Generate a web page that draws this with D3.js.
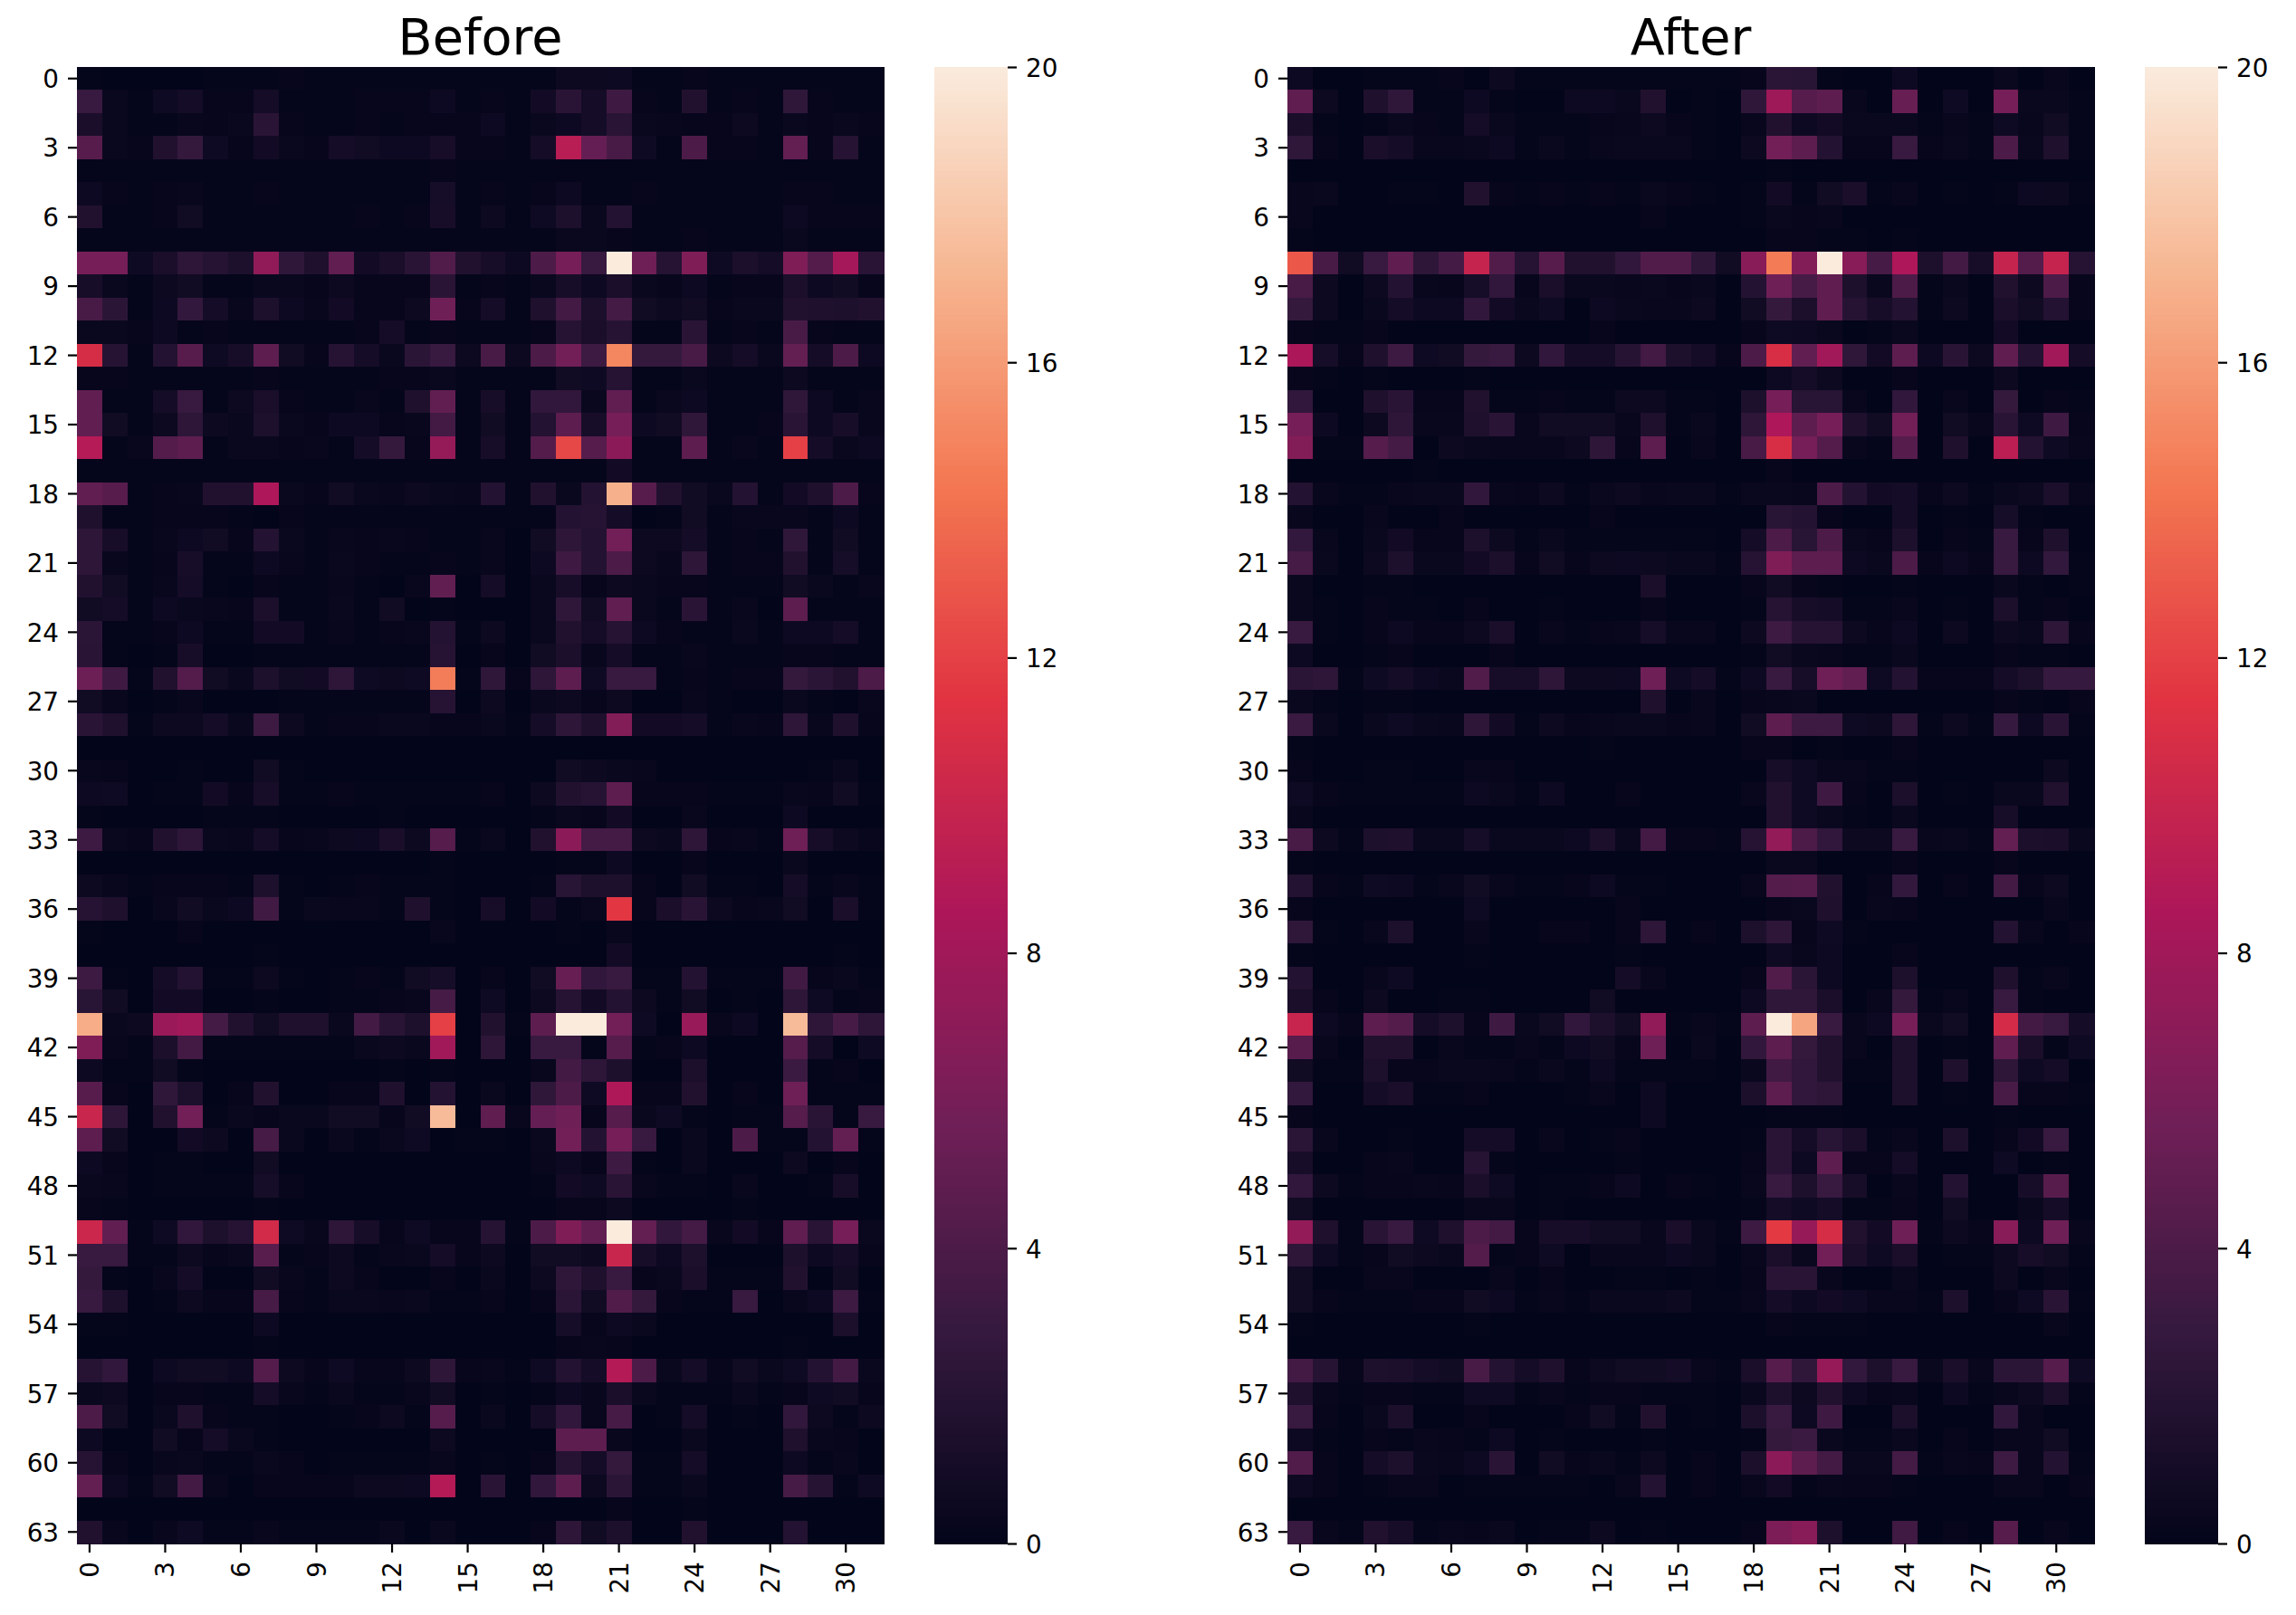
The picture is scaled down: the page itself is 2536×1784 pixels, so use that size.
<!DOCTYPE html>
<html>
<head>
<meta charset="utf-8">
<title>Before / After</title>
<script src="https://cdnjs.cloudflare.com/ajax/libs/d3/7.8.5/d3.min.js"></script>
<style>
  html, body { margin: 0; padding: 0; background: #fff; }
  svg { display: block; }
  text { font-family: "DejaVu Sans", sans-serif; fill: #000; }
</style>
</head>
<body>
<svg id="chart" width="2536" height="1784"></svg>
<script>
const rowTicks = [0,3,6,9,12,15,18,21,24,27,30,33,36,39,42,45,48,51,54,57,60,63]
const colTicks = [0,3,6,9,12,15,18,21,24,27,30]
const barTicks = [0,4,8,12,16,20]
const titles = ['Before', 'After']
// seaborn rocket, sampled
const rocketStops = ['#03051a','#35193e','#701f57','#ad1759','#e13342','#f37651','#f6b48f','#faebdd']

const beforeRows = [
[.1,0,0,0,0,.1,.1,.1,.2,.1,.1,.1,.1,.1,.1,.1,.1,.1,.1,.5,.5,.6,.1,.1,.2,.1,.1,.1,.1,.1,.1,.1],
[3,.4,.1,.7,1,.2,.2,1,.1,.1,.1,.2,.2,.2,.6,.1,.2,.1,.9,2.2,1,3.3,.2,.1,1.7,.1,.2,.1,2.5,.2,.1,.1],
[1.3,.4,.1,.1,.3,.2,.4,2.2,.2,.1,.1,.2,.1,.2,.2,.2,.6,.1,.4,.6,1,2.2,.4,.3,.2,.2,.5,.1,.4,.2,.4,.2],
[4.5,.4,.2,1.7,2.8,.7,.2,.9,.4,.2,1,.8,.6,.6,1.2,.2,.2,.1,1,9.2,5.2,3.8,.7,.1,4,.2,.2,.1,5.1,.2,2,.1],
[.1,.1,.1,.1,.1,.1,.1,.1,.1,.1,.1,.1,.1,.1,.2,.1,.1,.1,.1,.1,.1,.1,.1,.1,.1,.1,.1,.1,.1,.1,.1,.1],
[.6,.2,.1,.2,.3,.1,.1,.2,.1,.1,.1,.1,.1,.1,1.1,.1,.2,.1,.2,.6,.1,.1,.2,.1,.1,.1,.1,.1,.2,.2,.1,.1],
[1.7,.1,.1,.2,.8,.1,.1,.1,.1,.1,.1,.2,.1,.2,1.2,.1,.5,.1,.7,1.5,.4,1.9,.1,.1,.1,.1,.1,.1,.6,.2,.2,.2],
[.1,.1,.1,.1,.1,.1,.1,.1,.1,.1,.1,.1,.1,.1,.1,.1,.1,.1,.1,.4,.4,.2,.1,.1,.2,.1,.1,.1,.4,.1,.1,.1],
[6,6,.7,1.3,2.4,2,1.5,7.2,2.5,1.6,5,.9,1.3,2.2,4.2,1.7,1.2,.6,4,6,3,20,5.6,2,6.4,.7,1.4,1,6.4,4.3,8.2,2.2],
[1.2,.4,.1,.5,.8,.1,.1,.4,.4,.2,.5,.2,.2,.2,2.2,.1,.2,.1,.4,1.2,.6,1.3,.4,.2,.6,.1,.2,.2,1.4,.6,.8,.2],
[3.8,2.3,.1,.6,2.7,1,.3,1.5,.6,.3,.9,.2,.2,.5,5.6,.2,1,.1,1.6,3.5,1.4,3.6,.8,.5,.8,.2,.4,.4,1.7,1.6,1.5,1.7],
[.4,.4,.2,.6,.1,.2,.1,.1,.1,.1,.1,.2,1,.1,.2,.1,.1,.1,.2,2,1.3,2,.1,.1,2.2,.1,.2,.1,3.8,.2,.1,.1],
[10.8,2,.1,1.8,4.5,.7,1.2,4.8,.8,.2,2,1,.4,2.3,3,.5,3.8,.5,4,5.8,3.2,15,2.8,2.8,3.8,.5,1,.4,5.1,1,4,.6],
[.2,.2,.1,.1,.1,.1,.1,.2,.1,.1,.1,.1,.2,.2,.4,.1,.1,.1,.1,.8,.7,2,.1,.1,.4,.1,.1,.1,.5,.1,.1,.1],
[5,.1,.1,1,3,.1,.5,1.3,.2,.1,.1,.3,.1,1.6,5,.1,1.2,.1,2.6,2.6,.4,5,.1,.4,.6,.1,.1,.1,2.5,.6,.1,.3],
[5,.8,.1,.5,2.4,.5,.4,1.5,.4,.2,.6,.6,.2,.3,3.5,.1,.8,.1,1.8,4.8,1.2,6,.6,.8,2.5,.1,.1,.2,2.2,.6,1.2,.3],
[9,.1,.3,4.3,4.8,.1,.4,.4,.2,.3,.1,1,2.8,.2,7.4,.1,1.2,.1,4.3,12.3,4.4,7,.1,.1,4.8,.1,.3,.1,12,1,.4,.6],
[.1,.1,.1,.1,.1,.1,.1,.1,.1,.1,.1,.1,.1,.1,.1,.1,.1,.1,.1,.1,.1,.9,.1,.1,.1,.1,.1,.1,.1,.1,.1,.1],
[5,4.5,.1,.2,.3,1.7,1.7,8.6,.4,.2,.8,.4,.3,.5,.4,.3,1.8,.1,1.7,.4,1.8,17,4.5,1.7,.8,.4,1.8,.1,.9,1.6,4,.2],
[1.6,.1,.1,.2,.2,.2,.1,0,.2,.1,.1,.1,.1,.1,.1,.1,.1,.1,.1,1.9,2,1,0,.1,.8,.1,.3,.3,.3,.1,.6,.1],
[2.4,1.2,.1,.3,.6,.8,.2,1.9,.4,.1,.3,.2,.3,.2,.1,.1,.3,0,.8,2.4,1.8,5.8,.5,.5,1,.1,.2,.1,2.5,.1,.8,.1],
[2.4,.3,.1,.2,1.2,.1,.1,.6,.3,.1,.4,.2,.1,.1,.2,.1,.3,0,.6,3.3,1.8,4,.5,.3,2.4,.1,.2,.2,1.7,.1,1.1,.1],
[1.7,.8,.1,.3,1,.1,0,.2,.1,.1,.3,.1,0,.3,5,0,1,0,.4,1.2,.2,.5,.4,.2,.2,.1,.1,.1,.8,.4,.1,.3],
[.8,1,.1,.6,.4,.3,.2,1.4,.1,.1,.4,.1,.8,0,.1,0,0,0,.4,2.5,.8,5,.4,.1,2.2,.1,.3,0,4.8,.1,.1,.1],
[2.3,.1,.1,.2,.6,.1,.1,.9,.9,.1,.3,.1,.2,.3,1.9,.1,.5,0,.4,1.7,1,2,.6,.2,.1,.1,.4,.1,.6,.6,1,.1],
[2.2,.1,0,.1,1.2,0,0,.1,.1,.1,.1,.1,.1,.1,2,0,.2,0,.8,1.4,.3,1,.1,.1,.3,.1,.1,.1,.2,.2,.1,.1],
[5.5,3.3,.1,1.7,4.3,.8,.4,1.5,.8,.9,2.4,.7,.5,.7,14.6,.1,2.5,.2,2.4,4.8,.7,3,3,.1,.2,.1,.2,.2,2.8,2.3,1.7,4],
[.8,.3,0,.1,.3,0,0,0,.1,.1,.1,.1,.1,.1,2,0,.5,0,.4,.5,.2,.5,0,0,.3,.1,0,0,.4,.1,0,.3],
[2.2,1.6,.1,.5,.5,1,.4,3.2,.5,.1,.2,.2,.4,.4,.2,.2,.4,.1,1,2.4,1.6,6.6,.9,.9,1,.1,.3,.2,2.4,.3,1.6,.2],
[0,0,0,0,0,0,0,0,0,0,0,0,0,0,0,0,0,0,0,0,0,0,0,0,0,0,0,0,0,0,0,0],
[.3,.2,0,0,.1,0,0,.8,.1,0,0,0,0,0,0,0,0,0,0,.8,.5,.4,.3,0,0,0,0,0,0,.1,.4,0],
[.6,.7,0,.1,.1,.9,.2,1.2,.1,.1,.2,.1,.1,.1,.1,.1,.2,0,.5,1.7,2,4.8,.2,.2,.2,.1,.1,.1,.3,.2,.8,.1],
[.1,0,0,0,0,.1,.1,.1,0,0,0,0,.1,0,0,0,0,0,.1,.4,.2,.9,0,0,.3,0,0,0,.6,0,0,0],
[3.2,.4,.2,1.7,2.4,.4,.3,1,.2,.3,.5,.6,1.3,.5,4.4,.1,.4,0,1.7,7,3.6,3.6,.5,.4,2.4,.2,.3,.1,5.6,1.2,.5,.3],
[0,0,0,0,0,0,0,0,0,0,0,0,0,0,.1,0,0,0,0,.1,.1,.6,0,0,.2,0,0,0,.4,0,0,0],
[.5,.3,.1,.2,.2,.2,.1,1.5,.1,0,.1,.2,.1,.1,.1,0,0,0,.1,2.1,1.5,1.5,.2,0,.8,.1,.1,0,1,.1,.3,.1],
[2,1.6,0,.3,.8,.4,.6,3.4,.1,.4,.3,.3,.1,1.6,.1,0,1.2,0,.9,.1,.4,11.6,.2,1.3,2.2,.5,.2,.3,.8,0,1.3,.1],
[.1,0,0,0,.2,0,0,0,0,0,0,0,0,0,.3,0,0,0,0,.1,0,.3,0,0,0,0,0,0,0,0,0,0],
[0,0,0,0,0,0,0,.1,0,0,0,0,0,0,0,0,0,0,0,0,0,.9,0,0,0,0,0,0,0,0,.1,0],
[3.2,.1,0,1,1.8,.1,.1,.5,.1,0,.1,.2,.1,.8,1.1,0,.2,0,.8,5.3,2.6,3,.1,.1,1.9,.1,.1,.1,3.4,.2,.4,.1],
[2.1,.8,0,.9,.9,0,0,.1,0,0,.1,.1,.2,.3,3.7,0,.7,0,.5,2,.9,1.9,.5,.1,.8,0,.1,0,2.4,.7,.1,.2],
[16.8,.4,.5,7.7,8,3.6,1.7,.8,1.6,1.6,.4,3.5,2.2,1.5,12,0,1.7,.1,4.8,20,20,5.8,.7,0,7.6,.3,.6,0,17.5,2.4,3.7,2.4],
[6.4,.3,.1,1.4,3.5,.1,.1,.1,.1,.1,.1,.4,.5,.4,8,0,2.4,0,3,3,.1,4.4,.1,.2,.6,0,0,0,4.4,1,0,.7],
[.6,.1,.1,.8,.1,0,0,0,0,0,0,0,.1,0,.1,0,0,0,.3,3.5,2.4,1.5,0,0,1.4,0,0,0,3.1,.1,.2,0],
[4.5,.2,0,2.5,1.5,0,.2,1.7,0,0,.2,.2,1.6,0,1.8,0,.4,0,2.5,4,.7,8.7,.2,.2,1.7,0,.2,0,5.6,.1,.1,.1],
[10.1,2.4,0,1.7,5.8,.1,.4,.2,.4,.4,.8,.8,.2,.8,17.5,0,4.9,.3,5.2,5.6,.2,4.4,.4,.7,.1,0,.1,.1,4.4,2.2,.1,3],
[4.8,.8,0,0,.9,.5,0,3.7,.4,0,.4,.1,.4,.7,0,.1,.1,0,.4,5.8,1.9,6,3,0,.4,0,4,.1,.1,1.9,5.1,.1],
[.6,.2,0,.1,.1,0,0,.8,0,0,0,0,0,0,0,0,0,0,.3,.6,.2,3.2,.1,0,.4,0,0,0,.5,0,.2,0],
[.4,.3,0,.1,.1,.1,.1,1.1,.2,0,0,0,0,0,0,0,0,0,.1,.9,.7,2.2,.3,.1,.1,0,.3,0,0,.1,1.2,0],
[.2,.1,0,0,0,0,0,.1,0,0,0,0,0,0,0,0,0,0,0,.2,.2,.5,0,0,0,0,.1,0,0,0,0,0],
[10.2,5,.1,.7,2.6,1.5,2,10.6,.7,.3,2.4,1.2,.2,.7,.2,.2,2,.1,4,6.4,5,20,5.1,2.6,3.6,.3,.9,.2,4.9,2.2,6,.4],
[3,3,.1,.1,.5,.2,.4,4.6,.1,.2,.5,.1,.3,.4,1,.2,.5,0,.8,.8,.5,10.1,1.2,.6,1.5,0,0,0,1.5,.6,1,.2],
[2.8,.1,0,.3,1,0,0,.8,.3,.1,.5,.2,0,0,.2,0,.4,0,.5,2.5,1.6,3,.2,.4,1.3,.1,.1,.1,1.7,0,.8,0],
[3,1.5,0,.1,.5,.2,.2,3.7,.2,.1,.4,.4,.3,.4,.1,.1,.2,0,.2,2.3,.8,4.2,2.8,.2,.1,.1,3,0,.3,.6,3.2,.1],
[.1,.1,0,0,0,0,0,.6,0,0,0,0,0,0,0,0,0,0,0,1.1,.2,.6,.4,0,0,0,0,0,0,0,1.4,0],
[0,0,0,0,0,0,0,.1,0,0,0,0,0,0,0,0,0,0,0,.2,.3,.2,0,0,0,0,0,0,.1,0,0,0],
[2,2.6,0,.6,.8,.8,.6,4.3,.5,.2,.7,.2,.2,.5,2.4,.2,.3,.1,.7,1.9,1,8.9,4,.4,1,.2,.8,.4,.7,1.8,3.5,.4],
[.4,.5,0,.2,.2,.1,.1,1,.3,.1,.4,.1,.1,.3,.8,0,.1,0,.1,.6,.3,1.3,.4,.1,.1,.1,.4,.1,.2,.7,.8,.2],
[4,.8,0,.4,1.6,.2,.1,.1,0,0,.1,.2,.5,.1,4.4,0,.4,0,1,2.6,.3,3.7,0,.1,1,0,.1,0,2.6,.5,.1,.5],
[.6,0,0,.8,.2,1,.4,.1,0,0,0,0,0,0,.5,0,0,0,0,4.8,4.8,.3,0,0,.4,0,0,0,1.6,.3,.2,0],
[2,.2,0,.3,.4,.1,.1,.4,.2,0,.1,.1,.1,.1,.3,0,.1,0,.2,2,1,2.8,.1,.1,1,0,0,0,.6,.1,.3,0],
[5.1,.6,.1,.8,3.5,.3,0,.2,.2,.2,.2,.5,.5,.6,8.9,0,2.2,0,2.6,4.8,.5,2.3,.1,.1,.4,0,0,0,3.7,2,.1,.7],
[0,0,0,0,0,0,0,0,0,0,0,0,0,0,0,0,0,0,0,0,0,.2,0,0,.1,0,0,0,0,0,0,0],
[1.7,.3,0,.3,.7,.1,.1,.3,.1,.1,.1,.1,.4,0,.4,0,0,0,.2,2.4,.8,1.5,0,0,1.7,0,0,0,1.8,0,0,0]
]

const afterRows = [
[.6,0,0,.1,.1,.1,.2,0,.5,.1,.1,.1,.1,.1,.1,.1,.1,.1,.2,2.3,2.1,.1,0,0,.6,0,0,0,.4,0,.3,0],
[4.9,.5,0,1.6,2.5,.1,.1,.6,.1,0,0,.6,.6,.4,1.7,0,.1,0,2.5,7.8,4.4,4.8,.3,0,5.3,0,.7,0,6,.4,.4,.1],
[1.3,.1,0,.1,.4,.2,.1,1,.4,.1,.1,.1,.2,.3,.5,.2,.1,0,.3,1.7,.6,.9,.4,.4,.4,.1,.3,.1,.7,.3,.8,.1],
[2.5,.2,0,1.3,1,.3,.3,.4,.6,.1,.4,.1,.3,.4,.4,.4,.1,0,.5,5.8,4.8,1.9,.2,.2,3,.2,.4,.1,4,.4,1.6,.1],
[0,0,0,0,0,0,0,0,0,0,0,0,0,0,0,0,0,0,0,.1,0,0,0,0,0,0,0,0,0,0,0,0],
[.3,.4,0,0,.1,.1,0,1.7,.2,.1,.2,.1,.2,.1,.4,.2,.1,0,.1,.9,.1,.8,1.3,.1,.3,0,.1,0,.1,.6,.5,.1],
[.3,0,0,0,0,0,0,0,0,0,0,0,0,0,.2,0,0,0,.1,.4,.2,.3,0,0,0,0,0,0,0,0,0,0],
[.1,0,0,0,0,0,0,0,0,0,0,0,0,0,0,0,0,0,0,.2,.2,.1,.1,0,.1,0,0,0,0,0,0,0],
[13,3.8,.8,3,4.9,2.4,3.6,9.9,4.2,2,4.5,1.7,1.7,2.6,4.2,4.2,2.5,.8,6.8,14.5,6.6,20,6.8,3.7,8.6,1.5,3.5,1.2,9.9,4.3,9.9,2],
[3.8,.5,0,.5,1.9,.3,.2,1.1,2.6,.2,1.3,.4,.4,.3,.4,.2,.4,0,1.9,5.6,3.7,4.9,1.5,.4,4,.1,.4,0,1.7,.5,4,.2],
[2.8,.5,0,.4,1,.6,.6,2.6,.9,.4,.7,0,.6,.4,.3,.3,.5,0,.8,2.8,1.4,4.9,2,1.2,1.8,.1,.5,0,1.3,.8,1.9,.2],
[.2,.1,.1,.2,0,0,0,0,0,0,0,0,.2,0,0,0,0,0,.2,.7,.6,.4,0,.1,.4,0,0,0,.9,0,0,0],
[8.5,1.1,.2,1.6,3.2,.7,.8,2.8,3,.5,2.6,1,1,2,3.5,1.5,1,.2,4,10.9,5,8,2.5,.9,4.8,.6,2.2,.5,4.9,1.8,8,1],
[.2,.1,0,.1,0,0,0,.1,0,0,0,0,0,0,0,0,0,0,0,.6,1,.5,0,0,.2,0,0,0,.5,0,0,0],
[2.6,0,0,1.6,2.2,.2,.2,1.7,.1,.1,.2,.1,.1,.5,.5,.1,.1,0,1.5,6,2.1,2.1,.3,0,2.6,0,.3,0,2.8,0,.2,.1],
[6,.6,0,.5,2.4,.3,.3,1.6,2.2,.3,.8,.8,.8,.3,1.6,.1,.4,0,2.4,8.6,4.8,6,1.6,.8,5.8,0,.8,.3,2.2,.7,3.3,.2],
[6.6,.1,.1,4.4,3.6,0,.5,.4,.3,.3,.3,.5,2.4,.2,4.8,0,.3,0,3.8,10.9,6,4.3,.3,.1,4.4,0,1.6,0,9.3,1.8,.7,.3],
[0,0,0,0,0,.1,0,0,0,0,0,0,0,0,0,0,0,0,0,.2,0,0,0,0,0,0,0,0,0,0,0,0],
[1.8,.3,.1,.1,.3,.4,.4,2.6,.3,.2,.5,.1,.4,.5,.3,.4,.4,.1,.4,.4,.3,4,1.8,.9,1,.2,.5,.1,.4,.5,1.4,.3],
[.3,0,0,.3,0,0,.2,0,0,0,0,0,.2,0,0,0,0,0,0,2.1,1.8,.2,0,0,1,0,.1,0,1.1,.1,0,0],
[2.7,.3,0,.4,.9,.2,.2,1.5,.5,.1,.4,.1,.1,.1,.1,.1,.1,0,1,4,2.1,4,.4,.2,1.5,0,.2,.1,3,.2,1.6,0],
[3.7,.4,0,.5,1.5,.4,.4,.9,1.4,.2,.8,.2,.5,.6,.5,.4,.4,.1,2,6.4,4.8,4.8,.6,.4,4,.2,.6,.2,3,.6,2.7,.1],
[.4,0,0,.1,.1,0,0,0,0,0,0,0,0,0,1.3,0,0,0,.2,.8,.2,.1,0,0,.1,0,0,0,.4,.1,0,.1],
[.4,.1,0,.2,.1,.1,0,.2,0,0,.1,0,0,0,.2,0,0,0,.1,2,1.2,1,.1,.1,.3,0,.1,0,1.4,.1,.2,0],
[3,.1,0,.2,.6,.2,.2,.5,1.3,0,.3,.1,.2,.3,1.1,.3,.3,0,.5,3.2,2,2,.5,.2,.6,0,.5,0,.5,.4,2.4,.2],
[.6,0,0,.1,.2,0,0,0,.2,0,0,0,0,0,0,0,0,0,.1,.8,.4,.3,.1,.1,.4,0,0,0,.2,.1,.1,0],
[2.3,2.4,.1,.7,1,.6,.4,4.2,1.2,1.2,2.4,.5,.5,.6,5.6,.7,1,.1,.6,3,1.2,5.6,5,.7,1.8,.2,.2,.2,1,1.5,2.9,2.9],
[.4,.1,0,.1,.1,0,0,0,0,0,0,0,0,0,1.6,0,.3,0,.2,.3,.4,0,0,0,0,0,0,0,.2,.1,0,.2],
[3.1,.4,0,.4,.7,.4,.3,2.4,.9,.1,.5,.2,.3,.4,.4,.2,.3,0,.8,4.8,3.2,3.2,.7,.5,2.4,.1,.5,.1,2.9,.6,2.2,.1],
[.1,0,0,0,0,0,0,0,0,0,0,0,.1,0,0,0,0,0,.2,.2,0,.1,0,0,.2,0,0,0,0,0,0,0],
[.2,0,0,.1,.1,0,0,.3,.2,0,0,0,0,0,0,0,0,0,0,1.2,.7,.3,.3,.1,.1,0,0,0,0,0,.5,0],
[.7,.2,.1,.1,.1,.1,.1,.6,.4,.1,.6,0,0,.2,0,0,0,0,.3,1.7,.7,3.3,.2,0,1.4,0,.1,0,.4,.4,1.7,0],
[.3,0,0,0,0,0,0,0,0,0,0,0,0,0,0,0,0,0,0,1.7,.7,.4,.1,0,.4,0,0,0,1.2,0,0,0],
[3.8,.5,.1,1.5,1.6,.4,.4,1.1,.4,.4,.4,.6,1.4,.4,3.5,.2,.2,.1,2,7.3,4,2.6,.5,.5,3,.3,.4,.1,5.1,1.4,1.3,.4],
[.1,0,0,0,0,0,0,0,0,0,0,0,0,0,0,0,0,0,0,.4,.4,0,0,0,.2,0,0,0,.2,0,0,0],
[1.8,.2,.1,.7,.6,.1,.3,.8,.3,.1,.1,.2,.6,.1,.1,0,0,0,.3,4.3,4.4,1.7,0,.2,2.7,0,.2,0,3.5,.2,.5,0],
[.2,0,0,0,0,0,0,.7,0,0,0,0,0,.2,0,0,0,0,0,.2,.4,1.6,0,.3,.2,0,0,0,0,0,.3,0],
[2.5,.1,0,.3,1.5,0,0,.3,0,0,.2,.2,0,.2,2.4,0,.2,0,1.5,2.4,.2,.7,.1,0,0,0,0,0,1.8,.3,0,.2],
[.1,0,0,0,0,0,0,.1,0,0,0,0,0,.1,0,0,0,0,0,.7,.3,.6,0,0,.2,0,0,0,0,0,0,0],
[1.8,0,0,.3,.7,0,0,0,0,0,0,0,0,1,.3,0,0,0,.2,4.2,2.3,.6,0,0,1.5,0,0,0,1.6,.1,.3,0],
[1.3,.2,0,.5,0,0,.1,.1,0,0,0,0,.8,0,0,0,0,0,.6,2.5,2.5,1.3,0,.3,2.8,.1,.3,0,3,.1,0,0],
[10,.6,.2,4.8,4.3,1,1.5,.2,3.3,.4,.8,2.6,1.5,.8,7.2,.1,.3,.1,4.8,20,16.5,3,.3,.6,6,.4,.8,0,10.7,3.5,3,1],
[4.5,.3,0,1.7,1.7,0,.3,.1,.1,.3,.1,.6,.8,.2,5.6,0,.4,0,2.6,4.8,2.8,1.7,.3,0,1.5,0,.1,0,4.9,1.3,.1,.7],
[.8,.1,.1,1.5,.2,.2,.4,.4,.3,.1,.4,.1,.6,.1,.1,.1,.1,0,.4,3.4,2.6,1.7,.1,.1,1.5,0,1.6,0,2.4,.7,1,0],
[2.7,0,0,1,1.3,.1,.1,.2,0,0,0,.1,.3,0,.6,0,0,0,1.4,4.8,2.6,2.4,0,0,1.5,0,.1,0,3.8,.2,.2,.1],
[.2,0,0,0,0,0,0,0,0,0,0,0,0,0,.6,0,0,0,0,.1,.1,.1,0,0,0,0,0,0,.1,0,0,0],
[2.3,.3,0,0,.1,0,0,1,1,0,.3,0,.1,.2,0,0,0,0,.1,2.2,1,2.1,1.3,.1,.3,0,1.5,0,.2,.9,3,0],
[1.2,0,0,.2,.3,0,0,2,.1,0,0,0,0,.1,0,0,0,0,.2,2.2,.6,4.8,.2,.2,1,0,0,0,.7,0,.1,0],
[2.6,.5,.1,.2,.2,.3,.2,1.3,.7,0,.1,.1,.2,.6,0,.2,.1,0,.3,3,1.5,3,1.2,0,.3,0,1.8,0,0,1.2,4.5,0],
[.8,0,0,0,0,0,0,.3,.3,0,.1,0,0,0,0,0,0,0,.1,1,.7,1,.1,.1,.2,0,.8,0,0,.4,1,0],
[7.3,1.6,.1,2.2,3,.7,1.6,4,3.5,.2,1.2,1.2,.8,.8,.3,1.3,.4,.1,3.2,11.7,7.5,10.8,1.7,.9,5.6,.1,.5,.2,6.8,.6,5.6,.3],
[2.4,.7,.1,.2,.8,.5,.4,4.3,.1,.2,.7,0,.3,.3,.3,.6,.4,0,.3,1.3,.4,5.8,1.3,.7,1.3,0,.1,.1,.5,1.2,.8,.1],
[.8,0,0,.3,.3,0,0,0,.3,0,.2,0,0,.1,.1,0,.1,0,.2,2.2,2.2,.3,0,0,.4,0,0,0,.5,0,.3,0],
[.8,.2,.1,.1,.1,.2,.2,.8,.6,.1,.3,.1,.4,.4,.4,.5,.1,.1,.3,1,.6,.9,.7,.3,.3,.1,1.5,0,.2,.7,2.2,.1],
[.1,0,0,0,0,0,0,.1,0,0,0,0,0,0,0,0,0,0,0,.2,.1,.1,.1,0,0,0,0,0,0,0,.3,0],
[0,0,0,0,0,0,0,0,0,0,0,0,0,0,0,0,0,0,0,0,0,0,0,0,0,0,0,0,0,0,0,0],
[3.5,2,.2,1.5,1.4,1,.8,3.8,1.8,1,1.6,.2,.5,.8,.8,1,.3,.1,1.3,4.4,2.5,7.5,2.7,1.5,3,.4,1.3,.3,2.3,2.3,4.4,.7],
[1.6,.3,.1,.2,.2,.1,.1,.7,.7,.1,.3,.1,.2,.2,.1,.1,.1,0,.4,1.5,.5,1.7,.6,.2,.3,0,.6,.1,.3,.5,1.4,.1],
[3,.2,0,.4,1.4,0,0,.2,0,0,0,.2,.8,.1,1.7,0,.1,0,1.4,3,.6,3.3,0,0,1.4,0,0,0,2.6,.3,0,0],
[.6,.1,0,.2,.1,.3,.2,.1,.6,0,.1,0,0,0,.1,0,0,0,.1,2.8,3.1,.4,.1,.1,.4,0,.2,0,.3,.3,.8,0],
[4.2,.2,0,1,1.5,.4,.3,.6,2.2,0,.8,.2,.4,.1,.5,0,.2,0,1.4,7,4.8,3.5,.4,.4,3.6,.1,.3,.2,3.2,.3,1.8,.1],
[.6,.2,0,.1,.3,.3,0,.1,.1,.1,.1,.1,0,.3,1.9,0,.2,0,.3,.9,.1,.3,.2,.2,.1,0,0,0,.3,.3,0,.2],
[0,0,0,0,0,0,0,0,0,0,0,0,0,0,0,0,0,0,0,0,0,0,0,0,0,0,0,0,0,0,0,0],
[3,.3,.1,1.7,1.2,.1,.3,.2,.4,0,.1,.1,.5,0,.1,0,0,0,.2,6.3,6.8,1.5,0,0,3.4,0,.2,0,4.5,0,.3,0]
]

const panelW = 891, panelH = 1631, panelTop = 74, panelLeft = [85, 1422]
const barLeft = 947, barW = 81
const fontPx = 27.8, tickLen = 10, tickW = 2.2

const svg = d3.select('#chart')
const color = d3.scaleLinear()
  .domain(rocketStops.map((c, i) => i * 20 / (rocketStops.length - 1)))
  .range(rocketStops)
  .clamp(true)

function styleAxis(g) {
  g.select('.domain').remove()
  g.selectAll('line').attr('stroke', '#000').attr('stroke-width', tickW)
  g.selectAll('text').attr('font-size', fontPx).attr('fill', '#000').attr('dy', '.37em')
}

function drawPanel(rows, title, left) {
  const x = d3.scaleBand().domain(d3.range(rows[0].length)).range([0, panelW])
  const y = d3.scaleBand().domain(d3.range(rows.length)).range([0, panelH])
  const g = svg.append('g').attr('transform', `translate(${left},${panelTop})`)

  rows.forEach((row, r) => {
    g.append('g').selectAll('rect')
      .data(row)
      .join('rect')
      .attr('x', (d, c) => x(c))
      .attr('y', y(r))
      .attr('width', x.bandwidth() + 0.5)
      .attr('height', y.bandwidth() + 0.5)
      .attr('shape-rendering', 'crispEdges')
      .attr('fill', d => color(d))
  })

  g.append('g')
    .call(d3.axisLeft(y).tickValues(rowTicks).tickSize(tickLen).tickPadding(10))
    .call(styleAxis)

  g.append('g')
    .attr('transform', `translate(0,${panelH})`)
    .call(d3.axisBottom(x).tickValues(colTicks).tickSize(tickLen).tickPadding(10))
    .call(styleAxis)
    .selectAll('text')
      .attr('transform', 'rotate(-90)')
      .attr('text-anchor', 'end')
      .attr('x', -(tickLen + 10))
      .attr('y', 0)
      .attr('dy', '.36em')

  g.append('text')
    .attr('x', panelW / 2)
    .attr('y', -14)
    .attr('text-anchor', 'middle')
    .attr('font-size', 55.6)
    .text(title)

  // colorbar
  const cb = svg.append('g').attr('transform', `translate(${left + barLeft},${panelTop})`)
  const bar = d3.scaleLinear().domain([0, 20]).range([panelH, 0])
  const levels = d3.range(256).map(i => i * 20 / 256)
  cb.selectAll('rect')
    .data(levels)
    .join('rect')
    .attr('x', 0)
    .attr('y', d => bar(d + 20 / 256))
    .attr('width', barW)
    .attr('height', panelH / 256 + 0.5)
    .attr('shape-rendering', 'crispEdges')
    .attr('fill', d => color(d + 10 / 256))
  cb.append('g')
    .attr('transform', `translate(${barW},0)`)
    .call(d3.axisRight(bar).tickValues(barTicks).tickSize(tickLen).tickPadding(10).tickFormat(d3.format('d')))
    .call(styleAxis)
}

titles.forEach((t, i) => drawPanel(i === 0 ? beforeRows : afterRows, t, panelLeft[i]))
</script>
</body>
</html>
